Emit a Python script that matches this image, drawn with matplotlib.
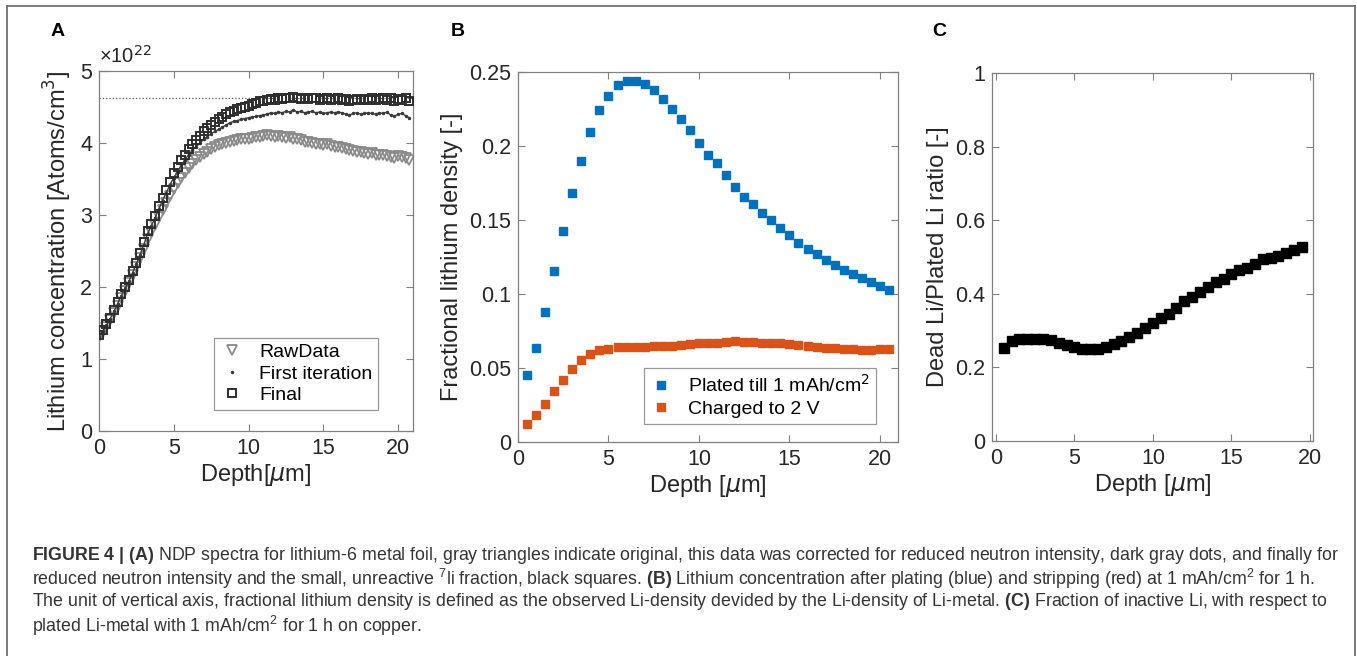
import matplotlib
matplotlib.use("Agg")
import matplotlib.pyplot as plt
from matplotlib.lines import Line2D
from matplotlib import font_manager
import numpy as np

names = {f.name for f in font_manager.fontManager.ttflist}
CAP_FONT = 'Liberation Sans Narrow' if 'Liberation Sans Narrow' in names else 'Liberation Sans'
CAP_SIZE = 11 if CAP_FONT.endswith('Narrow') else 12.8

plt.rcParams['font.family'] = ['Liberation Sans', 'DejaVu Sans']
plt.rcParams['mathtext.fontset'] = 'custom'
plt.rcParams['mathtext.rm'] = CAP_FONT
plt.rcParams['mathtext.it'] = CAP_FONT + ':italic'
plt.rcParams['mathtext.bf'] = CAP_FONT + ':bold'

# ---- panel A : NDP spectra (x 1e22 atoms/cm3) ----
depth_a = np.arange(0, 20.76, 0.25)
raw_a = [1.30, 1.37, 1.45, 1.54, 1.64, 1.74, 1.85, 1.95, 2.05, 2.16, 2.28, 2.40,
         2.53, 2.66, 2.76, 2.86, 2.97, 3.07, 3.17, 3.27, 3.36, 3.44, 3.52, 3.59,
         3.65, 3.71, 3.76, 3.81, 3.85, 3.88, 3.91, 3.94, 3.97, 3.99, 4.00, 4.02,
         4.03, 4.04, 4.05, 4.05, 4.06, 4.07, 4.08, 4.09, 4.10, 4.11, 4.10, 4.09,
         4.10, 4.08, 4.07, 4.08, 4.06, 4.05, 4.04, 4.02, 4.01, 4.00, 3.99, 3.98,
         3.97, 3.98, 3.96, 3.95, 3.94, 3.93, 3.91, 3.90, 3.89, 3.88, 3.87, 3.86,
         3.85, 3.86, 3.84, 3.83, 3.84, 3.82, 3.81, 3.79, 3.82, 3.80, 3.79, 3.77]
first_a = [1.32, 1.39, 1.47, 1.56, 1.66, 1.77, 1.88, 1.98, 2.08, 2.20, 2.32, 2.45,
           2.59, 2.74, 2.85, 2.96, 3.08, 3.20, 3.31, 3.42, 3.52, 3.60, 3.69, 3.77,
           3.84, 3.90, 3.95, 4.00, 4.05, 4.09, 4.13, 4.16, 4.19, 4.22, 4.25, 4.28,
           4.30, 4.31, 4.33, 4.34, 4.35, 4.36, 4.37, 4.38, 4.39, 4.40, 4.42, 4.41,
           4.43, 4.42, 4.44, 4.43, 4.46, 4.43, 4.44, 4.42, 4.43, 4.44, 4.42, 4.43,
           4.41, 4.42, 4.43, 4.42, 4.43, 4.42, 4.40, 4.39, 4.41, 4.42, 4.40, 4.41,
           4.42, 4.41, 4.40, 4.42, 4.41, 4.43, 4.39, 4.37, 4.40, 4.41, 4.38, 4.35]
final_a = [1.33, 1.40, 1.48, 1.57, 1.68, 1.79, 1.90, 2.00, 2.10, 2.22, 2.34, 2.47,
           2.62, 2.78, 2.88, 2.99, 3.12, 3.24, 3.35, 3.46, 3.58, 3.66, 3.76, 3.84,
           3.91, 3.98, 4.04, 4.10, 4.16, 4.21, 4.25, 4.29, 4.33, 4.36, 4.40, 4.43,
           4.45, 4.47, 4.49, 4.50, 4.52, 4.54, 4.56, 4.58, 4.59, 4.60, 4.61, 4.60,
           4.62, 4.61, 4.63, 4.62, 4.64, 4.63, 4.61, 4.62, 4.61, 4.63, 4.62, 4.60,
           4.61, 4.62, 4.60, 4.61, 4.62, 4.60, 4.61, 4.59, 4.60, 4.61, 4.60, 4.61,
           4.60, 4.62, 4.60, 4.61, 4.62, 4.60, 4.63, 4.58, 4.61, 4.60, 4.62, 4.59]
li_metal = 4.63

# ---- panel B : fractional lithium density ----
depth_b = np.arange(0.5, 20.51, 0.5)
plated_b = [0.045, 0.0635, 0.088, 0.1155, 0.1426, 0.168, 0.1896, 0.2095, 0.2245, 0.234,
            0.241, 0.2437, 0.2441, 0.2421, 0.2376, 0.2315, 0.225, 0.2182, 0.2108, 0.2023,
            0.1937, 0.1883, 0.1802, 0.1725, 0.1658, 0.1606, 0.1547, 0.1498, 0.1444, 0.1396,
            0.1345, 0.1306, 0.1268, 0.1232, 0.1198, 0.1164, 0.1133, 0.111, 0.1081, 0.1054,
            0.1027]
charged_b = [0.0119, 0.0182, 0.0257, 0.0342, 0.0421, 0.0495, 0.0552, 0.0592, 0.0619, 0.0631,
             0.064, 0.0642, 0.0644, 0.0644, 0.0646, 0.0651, 0.0651, 0.0658, 0.066, 0.0669,
             0.0669, 0.0669, 0.0676, 0.068, 0.0676, 0.0676, 0.0671, 0.0669, 0.0667, 0.066,
             0.0655, 0.0646, 0.0644, 0.0637, 0.0635, 0.0626, 0.0628, 0.0624, 0.0624, 0.0628,
             0.0628]

# ---- panel C : dead / plated ratio ----
depth_c = np.arange(0.5, 19.51, 0.5)
ratio_c = [0.253, 0.272, 0.276, 0.278, 0.277, 0.276, 0.274, 0.267, 0.261, 0.255,
           0.251, 0.249, 0.251, 0.255, 0.263, 0.272, 0.283, 0.294, 0.307, 0.321,
           0.334, 0.346, 0.361, 0.380, 0.391, 0.404, 0.418, 0.432, 0.441, 0.453,
           0.464, 0.470, 0.480, 0.495, 0.497, 0.502, 0.511, 0.518, 0.527]

W, H = 1357, 656
fig = plt.figure(figsize=(W / 100, H / 100), dpi=100)

def px_axes(x0, y0, x1, y1):
    return fig.add_axes([x0 / W, 1 - y1 / H, (x1 - x0) / W, (y1 - y0) / H])

def style(ax):
    for s in ax.spines.values():
        s.set_color('#808080')
        s.set_linewidth(0.9)
    ax.tick_params(direction='in', top=True, right=True, length=5, width=0.8,
                   color='#808080', labelsize=15.5, labelcolor='#262626', pad=5)

LAB = 17

axA = px_axes(99, 71, 413, 431)
axB = px_axes(518, 72, 898, 442)
axC = px_axes(992, 73, 1313, 441)

# panel A
axA.axhline(li_metal, color='#555555', ls=':', lw=0.9, zorder=1)
axA.plot(depth_a, raw_a, ls='none', marker='v', ms=7, mfc='none', mec='#8a8a8a', mew=1.3,
         label='RawData', zorder=2)
axA.plot(depth_a, first_a, ls='-', lw=1.0, color='#3a3a3a', zorder=3)
axA.plot(depth_a, first_a, ls='none', marker='.', ms=3, color='#3a3a3a',
         label='First iteration', zorder=3)
axA.plot(depth_a, final_a, ls='none', marker='s', ms=6, mfc='none', mec='#2e2e2e', mew=1.4,
         label='Final', zorder=4)
axA.set_xlim(0, 21)
axA.set_ylim(0, 5)
axA.set_xticks([0, 5, 10, 15, 20])
axA.set_yticks([0, 1, 2, 3, 4, 5])
style(axA)
axA.set_xlabel('Depth[$\\mu$m]', fontsize=LAB, color='#262626', labelpad=2,
               math_fontfamily='dejavusans')
axA.set_ylabel('Lithium concentration [Atoms/cm$^3$]', fontsize=LAB, color='#262626',
               labelpad=4, math_fontfamily='dejavusans')
axA.text(0.0, 1.012, '×10$^{22}$', transform=axA.transAxes, fontsize=14.5,
         color='#262626', ha='left', va='bottom', math_fontfamily='dejavusans')
legA = axA.legend(loc='lower right', bbox_to_anchor=(0.889, 0.058), borderaxespad=0,
                  fontsize=14, frameon=True, fancybox=False, edgecolor='#808080',
                  handlelength=1.2, handletextpad=0.8, borderpad=0.3, labelspacing=0.2)
legA.get_frame().set_linewidth(0.9)

# panel B
axB.plot(depth_b, plated_b, ls='none', marker='s', ms=5.5, color='#0072BD',
         label='Plated till 1 mAh/cm$^2$')
axB.plot(depth_b, charged_b, ls='none', marker='s', ms=5.5, color='#D95319',
         label='Charged to 2 V')
axB.set_xlim(0, 21)
axB.set_ylim(0, 0.25)
axB.set_xticks([0, 5, 10, 15, 20])
axB.set_yticks([0, 0.05, 0.1, 0.15, 0.2, 0.25])
axB.set_yticklabels(['0', '0.05', '0.1', '0.15', '0.2', '0.25'])
style(axB)
axB.set_xlabel('Depth [$\\mu$m]', fontsize=LAB, color='#262626', labelpad=2,
               math_fontfamily='dejavusans')
axB.set_ylabel('Fractional lithium density [-]', fontsize=LAB, color='#262626', labelpad=4)
legB = axB.legend(loc='lower right', bbox_to_anchor=(0.942, 0.049), borderaxespad=0,
                  frameon=True, fancybox=False, edgecolor='#808080',
                  handlelength=1.2, handletextpad=0.8, borderpad=0.3, labelspacing=0.25,
                  prop={'size': 14, 'math_fontfamily': 'dejavusans'})
legB.get_frame().set_linewidth(0.9)

# panel C
axC.plot(depth_c, ratio_c, ls='none', marker='s', ms=6.5, color='black')
axC.set_xlim(-0.25, 20.2)
axC.set_ylim(0, 1)
axC.set_xticks([0, 5, 10, 15, 20])
axC.set_yticks([0, 0.2, 0.4, 0.6, 0.8, 1])
axC.set_yticklabels(['0', '0.2', '0.4', '0.6', '0.8', '1'])
style(axC)
axC.set_xlabel('Depth [$\\mu$m]', fontsize=LAB, color='#262626', labelpad=2,
               math_fontfamily='dejavusans')
axC.set_ylabel('Dead Li/Plated Li ratio [-]', fontsize=LAB, color='#262626', labelpad=4)

# panel letters
for x, s in [(58, 'A'), (458, 'B'), (939, 'C')]:
    fig.text(x / W, 1 - 31 / H, s, fontsize=14, fontweight='bold', ha='center', va='center')

# frame around the figure
frame_kw = dict(color='#707070', lw=1.3, transform=fig.transFigure)
fig.add_artist(Line2D([7 / W, 1355 / W], [1 - 6 / H, 1 - 6 / H], **frame_kw))
fig.add_artist(Line2D([7 / W, 7 / W], [0, 1 - 6 / H], **frame_kw))
fig.add_artist(Line2D([1355 / W, 1355 / W], [0, 1 - 6 / H], **frame_kw))

# caption
caption = [
    r'$\mathbf{FIGURE\ 4\ |\ (A)}$ NDP spectra for lithium-6 metal foil, gray triangles indicate original, '
    r'this data was corrected for reduced neutron intensity, dark gray dots, and finally for',
    r'reduced neutron intensity and the small, unreactive $^{7}$li fraction, black squares. '
    r'$\mathbf{(B)}$ Lithium concentration after plating (blue) and stripping (red) at 1 mAh/cm$^{2}$ for 1 h.',
    r'The unit of vertical axis, fractional lithium density is defined as the observed Li-density '
    r'devided by the Li-density of Li-metal. $\mathbf{(C)}$ Fraction of inactive Li, with respect to',
    r'plated Li-metal with 1 mAh/cm$^{2}$ for 1 h on copper.',
]
for i, line in enumerate(caption):
    fig.text(32 / W, 1 - (555 + 23.5 * i) / H, line, fontsize=CAP_SIZE, family=CAP_FONT,
             color='#333333', ha='left', va='center', math_fontfamily='custom')

fig.savefig('out.png', dpi=100)
